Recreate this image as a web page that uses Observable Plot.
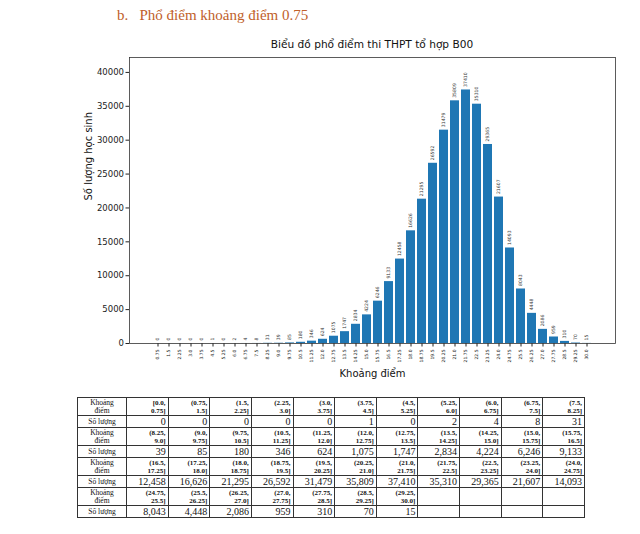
<!DOCTYPE html>
<html>
<head>
<meta charset="utf-8">
<script src="https://cdn.jsdelivr.net/npm/d3@7"></script>
<script src="https://cdn.jsdelivr.net/npm/@observablehq/plot@0.6"></script>
<style>
  html, body { margin: 0; padding: 0; background: #fff; }
  body { width: 640px; height: 534px; position: relative; overflow: hidden; }
  #hdr { position: absolute; left: 117px; top: 7px; font-family: "Liberation Serif", serif; font-size: 15px; color: #c0602a; white-space: pre; }
  #ttl { position: absolute; left: 129px; width: 486px; top: 38px; text-align: center; font-family: "DejaVu Sans", sans-serif; font-size: 10.6px; color: #111; }
  #chart { position: absolute; left: 0; top: 0; }
  #tbl { position: absolute; left: 77px; top: 397px; border-collapse: collapse; table-layout: fixed; width: 508px; font-family: "Liberation Serif", serif; color: #111; border: 1.5px solid #333; }
  #tbl td { border: 1px solid #333; padding: 0 2px; overflow: hidden; }
  #tbl tr.iv td { height: 17px; font-size: 7px; line-height: 8px; font-weight: bold; text-align: right; }
  #tbl tr.ct td { height: 11px; font-size: 10px; line-height: 11px; text-align: right; }
  #tbl tr td.lab { font-weight: normal; text-align: center; font-size: 7.5px; line-height: 8px; }
</style>
</head>
<body>
<div id="hdr">b.   Phổ điểm khoảng điểm 0.75</div>
<div id="ttl">Biểu đồ phổ điểm thi THPT tổ hợp B00</div>
<div id="chart"></div>
<table id="tbl"></table>
<script>
const bins = ["0.75","1.5","2.25","3.0","3.75","4.5","5.25","6.0","6.75","7.5",
              "8.25","9.0","9.75","10.5","11.25","12.0","12.75","13.5","14.25","15.0",
              "15.75","16.5","17.25","18.0","18.75","19.5","20.25","21.0","21.75","22.5",
              "23.25","24.0","24.75","25.5","26.25","27.0","27.75","28.5","29.25","30.0"];
const counts = [0,0,0,0,0,1,0,2,4,8,
                31,39,85,180,346,624,1075,1747,2834,4224,
                6246,9133,12458,16626,21295,26592,31479,35809,37410,35310,
                29365,21607,14093,8043,4448,2086,959,310,70,15];
const yTicks = [0,5000,10000,15000,20000,25000,30000,35000,40000];
const chartTitle = "Biểu đồ phổ điểm thi THPT tổ hợp B00";
const xLabel = "Khoảng điểm";
const yLabel = "Số lượng học sinh";

const rows = bins.map((b, i) => ({bin: b, count: counts[i]}));

const plot = Plot.plot({
  width: 640,
  height: 390,
  marginTop: 57,
  marginLeft: 129,
  marginRight: 25,
  marginBottom: 47,
  style: {fontFamily: "DejaVu Sans", background: "transparent", color: "#222"},
  x: {type: "band", domain: bins, paddingInner: 0.2, paddingOuter: 2.02},
  y: {domain: [0, 42200]},
  marks: [
    Plot.barY(rows, {x: "bin", y: "count", fill: "#1f77b4"}),
    Plot.text(rows, {x: "bin", y: "count", text: d => String(d.count), rotate: -90, textAnchor: "start", dy: -3, fontSize: 4.6, fill: "#333"}),
    Plot.axisY({ticks: yTicks, tickFormat: d => String(d), tickSize: 3.5, tickPadding: 2, fontSize: 8.5, label: null}),
    Plot.axisX({tickRotate: -90, tickSize: 3.5, tickPadding: 2.5, fontSize: 4.5, label: null}),
    Plot.text([xLabel], {text: d => d, frameAnchor: "bottom", dy: 33, fontSize: 10, fill: "#111"}),
    Plot.text([yLabel], {text: d => d, frameAnchor: "left", rotate: -90, dx: -41, fontSize: 10, fill: "#111"}),
    Plot.frame({stroke: "#333", strokeWidth: 0.8})
  ]
});
document.getElementById("chart").appendChild(plot);

// table
const lowers = ["0.0", ...bins.slice(0, -1)];
const fmt = d3.format(",");
const tbl = d3.select("#tbl");
const cg = tbl.append("colgroup");
cg.append("col").style("width", "49px");
for (let i = 0; i < 11; i++) cg.append("col");
for (let g = 0; g < 4; g++) {
  const idx = d3.range(g * 11, g * 11 + 11);
  const r1 = tbl.append("tr").attr("class", "iv");
  r1.append("td").attr("class", "lab").html("Khoảng<br>điểm");
  idx.forEach(i => {
    const td = r1.append("td");
    if (i < bins.length) td.html(`${i === 0 ? "[" : "("}${lowers[i]},<br>${bins[i]}]`);
  });
  const r2 = tbl.append("tr").attr("class", "ct");
  r2.append("td").attr("class", "lab").text("Số lượng");
  idx.forEach(i => {
    const td = r2.append("td");
    if (i < counts.length) td.text(fmt(counts[i]));
  });
}
</script>
</body>
</html>
